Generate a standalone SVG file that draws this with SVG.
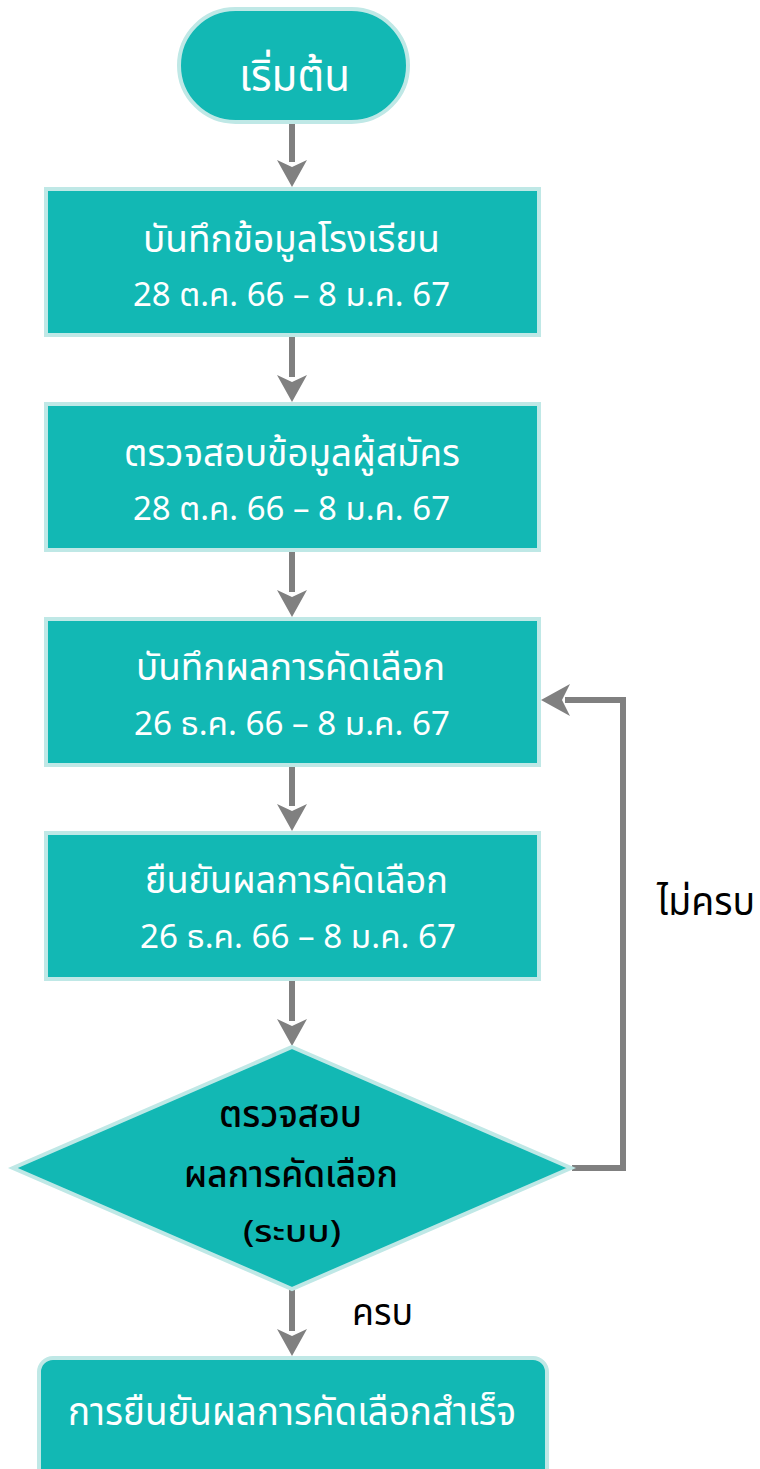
<svg xmlns="http://www.w3.org/2000/svg" width="760" height="1469" viewBox="0 0 760 1469">
<style>
.n{fill:#12b8b4;stroke:#bfe8e6;stroke-width:4}
.t{font-family:"Noto Sans","Noto Sans Thai","DejaVu Sans",sans-serif;fill:#fff;text-anchor:middle}
.k{font-family:"Noto Sans","Noto Sans Thai","DejaVu Sans",sans-serif;fill:#000;text-anchor:middle}
.c{fill:none;stroke:#808080;stroke-width:6}
</style>
<rect width="760" height="1469" fill="#fff"/>
<g id="connectors">
<path class="c" d="M292 124V162"/><path fill="#808080" d="M277 160L292 187L307 160L292 167Z"/>
<path class="c" d="M292 337V377"/><path fill="#808080" d="M277 375L292 402L307 375L292 382Z"/>
<path class="c" d="M292 552V592"/><path fill="#808080" d="M277 590L292 617L307 590L292 597Z"/>
<path class="c" d="M292 767V806"/><path fill="#808080" d="M277 804L292 831L307 804L292 811Z"/>
<path class="c" d="M292 980V1021"/><path fill="#808080" d="M277 1019L292 1046L307 1019L292 1026Z"/>
<path class="c" d="M292 1290V1331"/><path fill="#808080" d="M277 1329L292 1356L307 1329L292 1336Z"/>
<path class="c" d="M572 1168H623V700H565"/><path fill="#808080" d="M570 684L541 700L570 716L562 700Z"/>
</g>
<g id="start"><rect class="n" x="179" y="9" width="229" height="113" rx="56.5"/><text class="t" x="294.5" y="91" font-size="44" textLength="111" lengthAdjust="spacingAndGlyphs">เริ่มต้น</text></g>
<g id="box1"><rect class="n" x="46" y="189" width="493" height="146"/><text class="t" x="291.5" y="252" font-size="37" textLength="297" lengthAdjust="spacingAndGlyphs">บันทึกข้อมูลโรงเรียน</text><text class="t" x="291.5" y="306" font-size="32" textLength="317" lengthAdjust="spacingAndGlyphs">28 ต.ค. 66 – 8 ม.ค. 67</text></g>
<g id="box2"><rect class="n" x="46" y="404" width="493" height="146"/><text class="t" x="292" y="466" font-size="37" textLength="336" lengthAdjust="spacingAndGlyphs">ตรวจสอบข้อมูลผู้สมัคร</text><text class="t" x="291.5" y="520" font-size="32" textLength="317" lengthAdjust="spacingAndGlyphs">28 ต.ค. 66 – 8 ม.ค. 67</text></g>
<g id="box3"><rect class="n" x="46" y="619" width="493" height="146"/><text class="t" x="290.5" y="680" font-size="37" textLength="309" lengthAdjust="spacingAndGlyphs">บันทึกผลการคัดเลือก</text><text class="t" x="292" y="735" font-size="32" textLength="316" lengthAdjust="spacingAndGlyphs">26 ธ.ค. 66 – 8 ม.ค. 67</text></g>
<g id="box4"><rect class="n" x="46" y="833" width="493" height="146"/><text class="t" x="296.5" y="893" font-size="37" textLength="303" lengthAdjust="spacingAndGlyphs">ยืนยันผลการคัดเลือก</text><text class="t" x="298" y="948" font-size="32" textLength="316" lengthAdjust="spacingAndGlyphs">26 ธ.ค. 66 – 8 ม.ค. 67</text></g>
<g id="decision"><path class="n" stroke-width="3" d="M292 1047L571 1168L292 1289L13 1168Z"/><text class="k" x="290.5" y="1127" font-size="38" font-weight="500" textLength="143" lengthAdjust="spacingAndGlyphs">ตรวจสอบ</text><text class="k" x="291" y="1187" font-size="38" font-weight="500" textLength="214" lengthAdjust="spacingAndGlyphs">ผลการคัดเลือก</text><text class="k" x="292" y="1242" font-size="31" font-weight="500" textLength="98" lengthAdjust="spacingAndGlyphs">(ระบบ)</text></g>
<g id="end"><rect class="n" x="39" y="1358" width="508" height="130" rx="14"/><text class="t" x="292" y="1425" font-size="40" textLength="448" lengthAdjust="spacingAndGlyphs">การยืนยันผลการคัดเลือกสำเร็จ</text></g>
<g id="labels"><text class="k" x="382.5" y="1325" font-size="37" textLength="61" lengthAdjust="spacingAndGlyphs">ครบ</text><text class="k" x="706" y="915" font-size="39" textLength="98" lengthAdjust="spacingAndGlyphs">ไม่ครบ</text></g>
</svg>
